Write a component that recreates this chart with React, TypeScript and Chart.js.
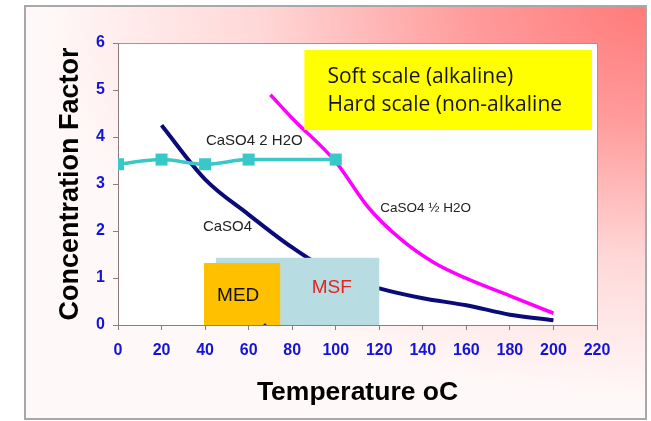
import React, { useEffect, useRef } from "react";
import { Chart, registerables } from "chart.js";

Chart.register(...registerables);

// ---- Data ----
const caso4Temps = [20, 40, 60, 80, 100, 120, 140, 160, 180, 200];
const caso4Values = [4.25, 3.1, 2.35, 1.65, 1.08, 0.78, 0.57, 0.42, 0.22, 0.1];

const hemihydrateTemps = [70, 80, 100, 115, 130, 145, 160, 180, 200];
const hemihydrateValues = [4.9, 4.4, 3.47, 2.5, 1.82, 1.33, 0.99, 0.62, 0.25];

const gypsumTemps = [0, 20, 40, 60, 100];
const gypsumValues = [3.42, 3.52, 3.42, 3.52, 3.52];

const strayTemps = [67.5];
const strayValues = [0];

// curve labels (data coordinates)
const curveLabels = ["CaSO4 2 H2O", "CaSO4", "CaSO4 \u00bd H2O"];
const curveLabelTemps = [62.6, 50.3, 141.3];
const curveLabelValues = [3.91, 2.08, 2.49];
const curveLabelSizes = [15, 15, 13.5];

// process zones
const zoneNames = ["MSF", "MED"];
const zoneStart = [45, 39.5];
const zoneEnd = [120, 74.5];
const zoneTop = [1.43, 1.32];
const zoneLabelTemps = [98.2, 55.2];
const zoneLabelValues = [0.79, 0.62];
const zoneFill = ["#b7dde3", "#ffc000"];
const zoneText = ["#e52222", "#111111"];

// note box
const noteLines = ["Soft scale (alkaline)", "Hard scale (non-alkaline"];
const noteRangeTemps = [85.6, 217.7];
const noteRangeValues = [4.15, 5.85];
const noteTextTemp = 96.2;
const noteLineValues = [5.28, 4.68];

const ARIAL = "'Liberation Sans', Arial, sans-serif";

const decorPlugin = {
  id: "decor",
  beforeDraw(chart: any) {
    const { ctx, width, height, chartArea } = chart;
    ctx.save();
    ctx.fillStyle = "#ffffff";
    ctx.fillRect(0, 0, width, height);
    const fx = 25, fy = 6, fw = 621, fh = 413;
    ctx.save();
    ctx.beginPath();
    ctx.rect(fx, fy, fw, fh);
    ctx.clip();
    ctx.translate(fx + fw, fy);
    ctx.scale(1, 0.65);
    const g = ctx.createRadialGradient(0, 0, 0, 0, 0, 600);
    g.addColorStop(0, "#ff7a7a");
    g.addColorStop(0.3, "#ff9c9c");
    g.addColorStop(0.65, "#ffd8d8");
    g.addColorStop(1, "#fff8f8");
    ctx.fillStyle = g;
    ctx.fillRect(-fw - 20, -20, fw + 40, fh / 0.65 + 40);
    ctx.restore();
    ctx.strokeStyle = "#a8a8a8";
    ctx.lineWidth = 2;
    ctx.strokeRect(fx, fy, fw, fh);
    // plot area
    ctx.fillStyle = "#ffffff";
    ctx.fillRect(chartArea.left, chartArea.top, chartArea.right - chartArea.left, chartArea.bottom - chartArea.top);
    ctx.strokeStyle = "#9a9a9a";
    ctx.lineWidth = 1;
    ctx.strokeRect(chartArea.left + 0.5, chartArea.top + 0.5, chartArea.right - chartArea.left, chartArea.bottom - chartArea.top);
    ctx.restore();
  },
  afterDatasetDraw(chart: any, args: any) {
    if (args.index !== 3) return;
    const { ctx } = chart;
    const xs = chart.scales.x;
    const ys = chart.scales.y;
    ctx.save();
    for (let i = 0; i < zoneNames.length; i++) {
      const x0 = xs.getPixelForValue(zoneStart[i]);
      const x1 = xs.getPixelForValue(zoneEnd[i]);
      const y0 = ys.getPixelForValue(zoneTop[i]);
      const y1 = ys.getPixelForValue(0);
      ctx.fillStyle = zoneFill[i];
      ctx.fillRect(x0, y0, x1 - x0, y1 - y0);
    }
    for (let i = 0; i < zoneNames.length; i++) {
      ctx.fillStyle = zoneText[i];
      ctx.font = `19px ${ARIAL}`;
      ctx.textAlign = "center";
      ctx.textBaseline = "middle";
      ctx.fillText(zoneNames[i], xs.getPixelForValue(zoneLabelTemps[i]), ys.getPixelForValue(zoneLabelValues[i]));
    }
    ctx.restore();
  },
  afterDatasetsDraw(chart: any) {
    const { ctx } = chart;
    const xs = chart.scales.x;
    const ys = chart.scales.y;
    ctx.save();
    // note box
    const bx0 = xs.getPixelForValue(noteRangeTemps[0]);
    const bx1 = xs.getPixelForValue(noteRangeTemps[1]);
    const by0 = ys.getPixelForValue(noteRangeValues[1]);
    const by1 = ys.getPixelForValue(noteRangeValues[0]);
    ctx.fillStyle = "#ffff00";
    ctx.fillRect(bx0, by0, bx1 - bx0, by1 - by0);
    ctx.fillStyle = "#151515";
    ctx.font = `21px 'Open Sans', sans-serif`;
    ctx.textAlign = "left";
    ctx.textBaseline = "middle";
    noteLines.forEach((t, i) => {
      ctx.fillText(t, xs.getPixelForValue(noteTextTemp), ys.getPixelForValue(noteLineValues[i]));
    });
    // curve labels
    ctx.fillStyle = "#222222";
    ctx.textAlign = "center";
    curveLabels.forEach((t, i) => {
      ctx.font = `${curveLabelSizes[i]}px ${ARIAL}`;
      ctx.fillText(t, xs.getPixelForValue(curveLabelTemps[i]), ys.getPixelForValue(curveLabelValues[i]));
    });
    ctx.restore();
  },
};

function pts(xs: number[], ys: number[]) {
  return xs.map((x, i) => ({ x, y: ys[i] }));
}

export default function App() {
  const ref = useRef<HTMLCanvasElement | null>(null);
  useEffect(() => {
    if (!ref.current) return;
    const tickColor = "#1414d8";
    const axisColor = "#8c7c7e";
    const chart = new Chart(ref.current, {
      type: "line",
      data: {
        datasets: [
          {
            label: "stray",
            data: pts(strayTemps, strayValues),
            showLine: false,
            pointRadius: 1.6,
            pointBackgroundColor: "#1a1a9a",
            pointBorderWidth: 0,
          },
          {
            label: "CaSO4 2 H2O",
            data: pts(gypsumTemps, gypsumValues),
            borderColor: "#38c8c8",
            backgroundColor: "#38c8c8",
            borderWidth: 3.5,
            pointStyle: "rect",
            pointRadius: 8.5,
            pointBackgroundColor: "#38c8c8",
            pointBorderWidth: 0,
            cubicInterpolationMode: "monotone",
          },
          {
            label: "CaSO4 1/2 H2O",
            data: pts(hemihydrateTemps, hemihydrateValues),
            borderColor: "#ff00ff",
            borderWidth: 3.5,
            pointRadius: 0,
            cubicInterpolationMode: "monotone",
          },
          {
            label: "CaSO4",
            data: pts(caso4Temps, caso4Values),
            borderColor: "#0a0a78",
            borderWidth: 4,
            pointRadius: 0,
            cubicInterpolationMode: "monotone",
          },
        ],
      },
      options: {
        responsive: false,
        animation: false,
        devicePixelRatio: 1,
        layout: { padding: { left: 0, top: 43, right: 54, bottom: 0 } },
        plugins: {
          legend: { display: false },
          tooltip: { enabled: false },
        },
        scales: {
          x: {
            type: "linear",
            min: 0,
            max: 220,
            afterFit: (s: any) => { s.height = 96; },
            ticks: {
              stepSize: 20,
              color: tickColor,
              font: { family: ARIAL, size: 16, weight: "bold" },
              padding: 11,
              maxRotation: 0,
            },
            grid: { drawOnChartArea: false, drawTicks: true, tickLength: 5, color: axisColor },
            border: { display: true, color: axisColor, width: 1 },
            title: {
              display: true,
              text: "Temperature oC",
              color: "#000000",
              font: { family: ARIAL, size: 26.5, weight: "bold" },
              padding: { top: 0, bottom: 12 },
            },
          },
          y: {
            min: 0,
            max: 6,
            afterFit: (s: any) => { s.width = 118; },
            ticks: {
              stepSize: 1,
              color: tickColor,
              font: { family: ARIAL, size: 16, weight: "bold" },
              padding: 8,
            },
            grid: { drawOnChartArea: false, drawTicks: true, tickLength: 5, color: axisColor },
            border: { display: true, color: axisColor, width: 1 },
            title: {
              display: true,
              text: "Concentration Factor",
              color: "#000000",
              font: { family: ARIAL, size: 27, weight: "bold" },
              padding: { top: 54, bottom: 0 },
            },
          },
        },
      },
      plugins: [decorPlugin],
    } as any);
    return () => chart.destroy();
  }, []);
  return (
    <div style={{ position: "absolute", left: 0, top: 0, width: 651, height: 421 }}>
      <canvas ref={ref} width={651} height={421} style={{ display: "block" }} />
    </div>
  );
}
